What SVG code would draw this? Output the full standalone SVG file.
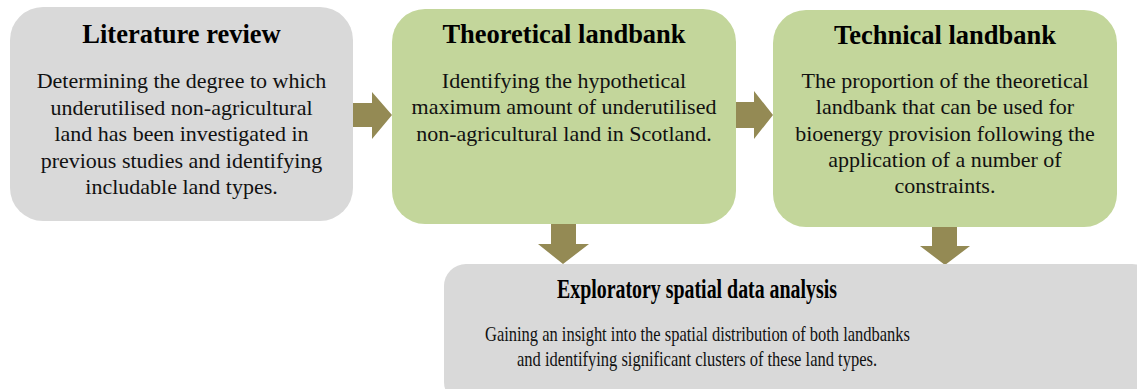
<svg xmlns="http://www.w3.org/2000/svg" width="1137" height="389" viewBox="0 0 1137 389">
<style>
.grey{fill:#d9d9d9}
.green{fill:#c3d69b}
.arrow{fill:#948a54}
.title{font-weight:bold;font-size:26.5px;fill:#000;text-anchor:middle}
.body{font-size:22px;fill:#111;text-anchor:middle}
</style>
<rect width="1137" height="389" fill="#fff"/>
<g id="connectors">
<polygon class="arrow" points="353,103 372,103 372,92 392,115 372,139 372,127 353,127"/>
<polygon class="arrow" points="735,102 754,102 754,91 773,115 754,139 754,128 735,128"/>
<polygon class="arrow" points="551,224 576,224 576,244 589,244 563,264 538,244 551,244"/>
<polygon class="arrow" points="932,227 957,227 957,246 970,246 945,265 920,246 932,246"/>
</g>
<g font-family="Liberation Serif, serif">
<g id="literature-review">
<rect class="grey" x="10" y="7" width="343" height="214" rx="33" ry="33"/>
<text class="title" x="181.5" y="43">Literature review</text>
<text class="body" x="181.5" y="88">Determining the degree to which</text>
<text class="body" x="181.5" y="114.5">underutilised non-agricultural</text>
<text class="body" x="181.5" y="141">land has been investigated in</text>
<text class="body" x="181.5" y="167.5">previous studies and identifying</text>
<text class="body" x="181.5" y="194">includable land types.</text>
</g>
<g id="theoretical-landbank">
<rect class="green" x="392" y="9" width="344" height="215" rx="33" ry="33"/>
<text class="title" x="564" y="43">Theoretical landbank</text>
<text class="body" x="564" y="87.5">Identifying the hypothetical</text>
<text class="body" x="564" y="114">maximum amount of underutilised</text>
<text class="body" x="564" y="140.5">non-agricultural land in Scotland.</text>
</g>
<g id="technical-landbank">
<rect class="green" x="773" y="10" width="344" height="217" rx="33" ry="33"/>
<text class="title" x="945" y="43.5">Technical landbank</text>
<text class="body" x="945" y="88">The proportion of the theoretical</text>
<text class="body" x="945" y="114">landbank that can be used for</text>
<text class="body" x="945" y="140.5">bioenergy provision following the</text>
<text class="body" x="945" y="167">application of a number of</text>
<text class="body" x="945" y="193">constraints.</text>
</g>
<g id="exploratory-analysis">
<rect class="grey" x="444" y="264" width="710" height="140" rx="22" ry="22"/>
<text class="title" x="697" y="297.5" textLength="280" lengthAdjust="spacingAndGlyphs">Exploratory spatial data analysis</text>
<text class="body" x="697.5" y="341" textLength="425" lengthAdjust="spacingAndGlyphs">Gaining an insight into the spatial distribution of both landbanks</text>
<text class="body" x="697" y="366" textLength="360" lengthAdjust="spacingAndGlyphs">and identifying significant clusters of these land types.</text>
</g>
</g>
</svg>
